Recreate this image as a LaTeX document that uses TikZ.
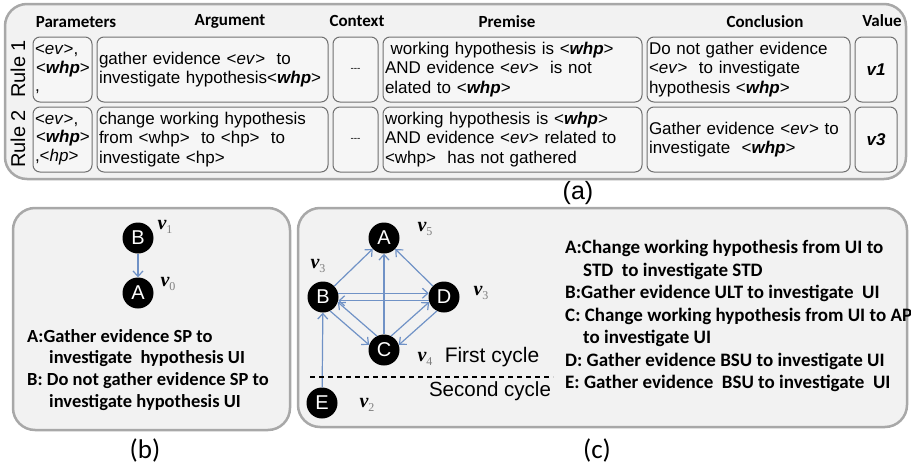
\documentclass[tikz,border=0pt]{standalone}
\usepackage{fontspec}
\setmainfont{Liberation Sans}
\newfontfamily\carlito{Carlito}
\newfontfamily\timesf{Liberation Serif}
\usetikzlibrary{arrows.meta}

\definecolor{panelfill}{RGB}{242,242,242}
\definecolor{paneldraw}{RGB}{168,168,168}
\definecolor{celldraw}{RGB}{112,112,112}
\definecolor{cellfill}{RGB}{246,246,246}
\definecolor{edgeblue}{RGB}{112,146,198}

\newcommand{\ev}{<\textit{ev}>}
\newcommand{\whp}{<\textbf{\textit{whp}}>}
\newcommand{\hpar}{<\textit{hp}>}
\newcommand{\vsub}[1]{{\timesf\bfseries\itshape\fontsize{20}{20}\selectfont v}\raisebox{-4pt}{\timesf\fontsize{12}{12}\selectfont\color{gray}#1}}
\newcommand{\nodots}{{\fontsize{10}{10}\selectfont -{}-{}-}}

\begin{document}
\begin{tikzpicture}[x=1pt,y=-1pt]

\tikzstyle{panel}=[draw=paneldraw, fill=panelfill, line width=2.5pt, rounded corners=22pt]
\tikzstyle{cell}=[draw=celldraw, fill=cellfill, line width=1pt, rounded corners=7pt,
  inner xsep=2pt, inner ysep=2pt, minimum height=65pt, align=left,
  font=\fontsize{17}{19.5}\selectfont]
\tikzstyle{head}=[font=\carlito\bfseries\fontsize{17}{17}\selectfont]
\tikzstyle{vertex}=[circle, fill=black, text=white, minimum size=31pt, inner sep=0pt,
  font=\fontsize{20}{20}\selectfont]
\tikzstyle{edge}=[-{Straight Barb[length=5.5pt,width=10pt]}, edgeblue, line width=1.2pt]
\tikzstyle{legend}=[anchor=north west, align=left, inner sep=0pt,
  font=\carlito\bfseries\fontsize{18.5}{21.8}\selectfont]
\tikzstyle{caption}=[font=\carlito\fontsize{27}{27}\selectfont]

\useasboundingbox (0,0) rectangle (911,466);

% (a) rule table
\draw[panel] (5,4) rectangle (906,179);
\node[head] (h_par) at (76,22) {Parameters};
\node[head] (h_arg) at (230,21) {Argument};
\node[head] (h_ctx) at (357,21) {Context};
\node[head] (h_pre) at (507,22) {Premise};
\node[head] (h_con) at (765,22) {Conclusion};
\node[head] (h_val) at (882,21) {Value};
\node[rotate=90, font=\fontsize{20}{20}\selectfont] (rule1) at (18,69) {Rule 1};
\node[rotate=90, font=\fontsize{20}{20}\selectfont] (rule2) at (18,139) {Rule 2};

\node[cell, minimum width=59pt, text width=55pt, font=\fontsize{17}{18.5}\selectfont] (par1) at (62.5,69.5)
  {\ev,\\\hspace{1pt}\whp\\,};
\node[cell, minimum width=231pt, text width=227pt] (arg1) at (212.5,69.5)
  {gather evidence \ev\ \ to\\investigate hypothesis\whp};
\node[cell, minimum width=45pt, text width=41pt, align=center] (ctx1) at (355.5,69.5) {\nodots};
\node[cell, minimum width=259pt, text width=255pt] (pre1) at (512.5,69.5)
  {\ working hypothesis is \whp\\AND evidence \ev\ \ is not\\elated to \whp};
\node[cell, minimum width=203pt, text width=199pt] (con1) at (748.5,69.5)
  {Do not gather evidence\\\ev\ \ to investigate\\hypothesis \whp};
\node[cell, minimum width=42pt, text width=38pt, align=center] (val1) at (876,69.5) {\textbf{\textit{v1}}};

\node[cell, minimum width=59pt, text width=55pt, font=\fontsize{17}{18.5}\selectfont] (par2) at (62.5,139.5)
  {\ev,\\\hspace{1pt}\whp\\,\hpar};
\node[cell, minimum width=231pt, text width=227pt] (arg2) at (212.5,139.5)
  {change working hypothesis\\from <whp>\ \ to <hp>\ \ to\\investigate <hp>};
\node[cell, minimum width=45pt, text width=41pt, align=center] (ctx2) at (355.5,139.5) {\nodots};
\node[cell, minimum width=259pt, text width=255pt] (pre2) at (512.5,139.5)
  {working hypothesis is \whp\\AND evidence \ev\ related to\\<whp>\ \ has not gathered};
\node[cell, minimum width=203pt, text width=199pt] (con2) at (748.5,139.5)
  {Gather evidence \ev\ to\\investigate\ \ \whp};
\node[cell, minimum width=42pt, text width=38pt, align=center] (val2) at (876,139.5) {\textbf{\textit{v3}}};
\node[font=\fontsize{25}{25}\selectfont] (cap_a) at (578,193) {(a)};

% (b) two-node graph
\draw[panel] (13,208) rectangle (290,430);
\node[vertex] (b_b) at (138,238) {B};
\node[vertex] (b_a) at (138,293) {A};
\node (b_v1) at (165,227) {\vsub{1}};
\node (b_v0) at (168,284) {\vsub{0}};
\draw[edge] (b_b) -- (b_a);
\node[legend] (b_text) at (27,329) {A:Gather evidence SP to\\
  \hspace{22pt}investigate\ \ hypothesis UI\\
  B: Do not gather evidence SP to\\
  \hspace{22pt}investigate hypothesis UI};
\node[caption] (cap_b) at (145,450) {(b)};

% (c) two-cycle graph
\draw[panel] (298,208) rectangle (907,427);
\node[vertex] (c_a) at (384,238) {A};
\node[vertex] (c_b) at (323,297) {B};
\node[vertex] (c_d) at (444,297) {D};
\node[vertex] (c_c) at (384,350) {C};
\node[vertex] (c_e) at (322,403) {E};
\node (c_v5) at (425,229) {\vsub{5}};
\node (c_vb) at (318,266) {\vsub{3}};
\node (c_vd) at (481,293) {\vsub{3}};
\node (c_v4) at (425,359) {\vsub{4}};
\node (c_v2) at (367,405) {\vsub{2}};

\draw[edge] (c_b) -- (c_a);
\draw[edge] (c_c) -- (c_a);
\draw[edge] (c_d) -- (c_a);
\draw[edge] (c_b.14) -- (c_d.166);
\draw[edge] (c_d.-166) -- (c_b.-14);
\draw[edge] (c_b.-63) -- (c_c.161);
\draw[edge] (c_c.117) -- (c_b.-19);
\draw[edge] (c_c.63) -- (c_d.-161);
\draw[edge] (c_d.-117) -- (c_c.19);
\draw[edge] (c_e) -- (c_b);

\draw[line width=1.1pt, dash pattern=on 5pt off 4pt] (310,377) -- (553,377);
\node[font=\fontsize{21}{21}\selectfont] (first) at (492,357) {First cycle};
\node[font=\fontsize{20.5}{20.5}\selectfont] (second) at (490,391) {Second cycle};

\node[legend, font=\carlito\bfseries\fontsize{19}{22.5}\selectfont] (c_text) at (565,240)
  {A:Change working hypothesis from UI to\\
  \hspace{18pt}STD\ \ to investigate STD\\
  B:Gather evidence ULT to investigate\ \ UI\\
  C: Change working hypothesis from UI to AP\\
  \hspace{18pt}to investigate UI\\
  D: Gather evidence BSU to investigate UI\\
  E: Gather evidence\ \ BSU to investigate\ \ UI};
\node[caption] (cap_c) at (597,450) {(c)};

\end{tikzpicture}
\end{document}
